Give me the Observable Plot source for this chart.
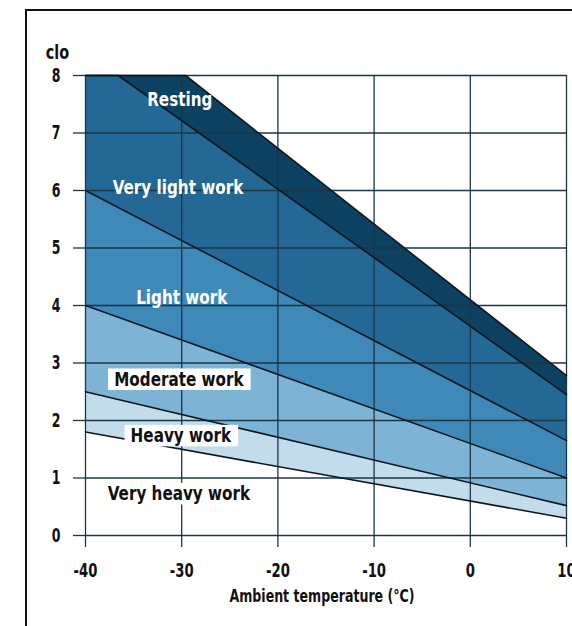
<!DOCTYPE html>
<html>
<head>
<meta charset="utf-8">
<script src="https://cdn.jsdelivr.net/npm/d3@7"></script>
<script src="https://cdn.jsdelivr.net/npm/@observablehq/plot@0.6"></script>
<style>
  html, body { margin: 0; padding: 0; background: #fff; }
  #wrap { position: relative; width: 572px; height: 626px; overflow: hidden; background: #fff; }
  #frame { position: absolute; left: 25px; top: 9px; width: 700px; height: 700px; border: 2px solid #111; box-sizing: border-box; }
  #chart { position: absolute; left: 0; top: 0; }
  #chart svg { font-family: "DejaVu Sans", sans-serif; font-weight: bold; }
</style>
</head>
<body>
<div id="wrap"><div id="frame"></div><div id="chart"></div></div>
<script>
// Categories (work levels), top band first
const categories = ["Resting", "Very light work", "Light work", "Moderate work", "Heavy work", "Very heavy work"];
const bandColors = ["#0c4161", "#246896", "#3f89b9", "#7db4d6", "#c2dcec", "#ffffff"];
const labelColors = ["#fff", "#fff", "#fff", "#111", "#111", "#111"];
const labelBoxed = [false, false, false, true, true, true];

// Upper boundary of each band (temperature °C, clo)
const restingTopX = [-40, -29.6, 10];
const restingTopY = [8, 8, 2.78];
const veryLightTopX = [-40, -36.6, 10];
const veryLightTopY = [8, 8, 2.45];
const lightTopX = [-40, 10];
const lightTopY = [6, 1.65];
const moderateTopX = [-40, 10];
const moderateTopY = [4, 1.0];
const heavyTopX = [-40, 10];
const heavyTopY = [2.5, 0.52];
const veryHeavyTopX = [-40, 10];
const veryHeavyTopY = [1.8, 0.3];

// Label positions (°C, clo)
const labelX = [-30.2, -30.4, -30.0, -30.3, -30.1, -30.3];
const labelY = [7.58, 6.05, 4.14, 2.72, 1.74, 0.73];

// Ticks
const xTicks = [-40, -30, -20, -10, 0, 10];
const yTicks = [0, 1, 2, 3, 4, 5, 6, 7, 8];

const boundaries = [
  [restingTopX, restingTopY],
  [veryLightTopX, veryLightTopY],
  [lightTopX, lightTopY],
  [moderateTopX, moderateTopY],
  [heavyTopX, heavyTopY],
  [veryHeavyTopX, veryHeavyTopY]
];

const gridColor = "#1a3642";

const marks = [];
// Bands: paint from top down, each area filled from 0 up to the band's upper boundary
bandColors.forEach((c, i) => {
  const [bx, by] = boundaries[i];
  marks.push(Plot.areaY({length: bx.length}, {x: bx, y1: 0, y2: by, fill: c}));
});
// Gridlines
marks.push(Plot.ruleY(yTicks, {stroke: gridColor, strokeWidth: 1.3}));
marks.push(Plot.ruleX(xTicks, {stroke: gridColor, strokeWidth: 1.3}));
// Boundary lines
boundaries.forEach(([bx, by]) => {
  marks.push(Plot.line({length: bx.length}, {x: bx, y: by, stroke: "#0a1720", strokeWidth: 1.6}));
});
// Axes
marks.push(Plot.axisY(yTicks, {
  tickSize: 12, tickPadding: 13, tickFormat: d => String(d), label: null,
  stroke: gridColor, strokeWidth: 1.3, fontSize: 19, fontWeight: "bold", fill: "#111"
}));
marks.push(Plot.axisX(xTicks, {
  tickSize: 12, tickPadding: 15, tickFormat: d => String(d), label: null,
  stroke: gridColor, strokeWidth: 1.3, fontSize: 20, fontWeight: "bold", fill: "#111"
}));
// Axis titles
marks.push(Plot.text(["clo"], {frameAnchor: "top-left", dx: -28, dy: -30, fontSize: 19, fontWeight: "bold", fill: "#111", textAnchor: "middle", className: "title-y"}));
marks.push(Plot.text(["Ambient temperature (°C)"], {frameAnchor: "bottom", dx: -4, dy: 66, fontSize: 18, fontWeight: "bold", fill: "#111", className: "title-x"}));
// Band labels
const idx = categories.map((_, i) => i);
const plainIdx = idx.filter(i => !labelBoxed[i]);
const boxedIdx = idx.filter(i => labelBoxed[i]);
marks.push(Plot.text(plainIdx, {x: i => labelX[i], y: i => labelY[i], text: i => categories[i], fill: i => labelColors[i], fontSize: 20, fontWeight: "bold", className: "band-labels"}));
marks.push(Plot.text(boxedIdx, {x: i => labelX[i], y: i => labelY[i], text: i => categories[i], fill: i => labelColors[i], fontSize: 20, fontWeight: "bold", className: "boxed-labels"}));

const chart = Plot.plot({
  width: 572,
  height: 626,
  marginLeft: 85,
  marginRight: 6,
  marginTop: 75,
  marginBottom: 91,
  x: {domain: [-40, 10]},
  y: {domain: [0, 8]},
  style: {fontFamily: "'DejaVu Sans', sans-serif", fontWeight: "bold", background: "transparent", overflow: "visible"},
  marks
});
document.getElementById("chart").appendChild(chart);

// Condense text horizontally to mimic the reference's condensed typeface
function condense(t, s) {
  const b = t.getBBox();
  const anchor = getComputedStyle(t).textAnchor;
  const ax = anchor === "middle" ? b.x + b.width / 2 : anchor === "end" ? b.x + b.width : b.x;
  const tr = t.getAttribute("transform") || "";
  t.setAttribute("transform", `${tr} translate(${ax},0) scale(${s},1) translate(${-ax},0)`);
}
chart.querySelectorAll("text").forEach(t => {
  const g = t.closest("g");
  const aria = (g && g.getAttribute("aria-label")) || "";
  let s = 0.76;
  if (aria.includes("tick label")) s = 0.66;
  if (t.closest(".title-x")) s = 0.7;
  condense(t, s);
});

// White boxes behind the dark labels
const svgNS = "http://www.w3.org/2000/svg";
const g = chart.querySelector(".boxed-labels");
if (g) {
  g.querySelectorAll("text").forEach(t => {
    const b = t.getBBox();
    const r = document.createElementNS(svgNS, "rect");
    r.setAttribute("x", b.x - 8);
    r.setAttribute("y", b.y + 1);
    r.setAttribute("width", b.width + 16);
    r.setAttribute("height", b.height - 1);
    r.setAttribute("fill", "#fff");
    const tr = t.getAttribute("transform");
    if (tr) r.setAttribute("transform", tr);
    g.insertBefore(r, g.firstChild);
  });
}
</script>
</body>
</html>
